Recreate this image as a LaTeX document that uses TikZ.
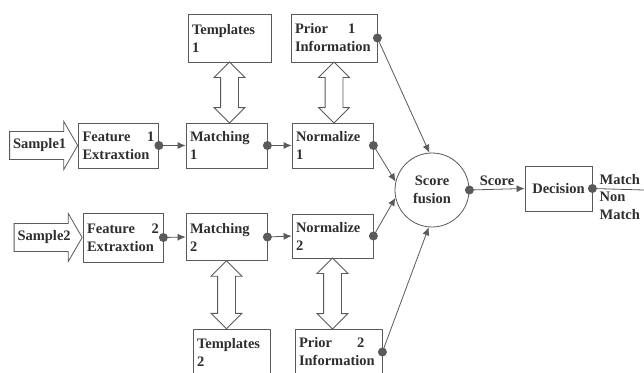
\documentclass[tikz,border=0pt]{standalone}
\usepackage{fontspec}
\setmainfont{Liberation Serif}
\usetikzlibrary{shapes.arrows,arrows.meta}

\definecolor{ink}{HTML}{2E2E2E}
\definecolor{edge}{HTML}{5A5A5A}

\tikzset{
  blk/.style={draw=edge, thick, align=left, text width=#1, minimum height=45pt,
    inner xsep=4pt, inner ysep=2pt, text=ink, font=\bfseries\fontsize{14.5}{18}\selectfont},
  blk/.default=72pt,
  smp/.style={draw=edge, thick, single arrow, single arrow head extend=10pt,
    single arrow tip angle=120, minimum height=68pt, inner xsep=1pt, inner ysep=7pt,
    text=ink, font=\bfseries\fontsize{14.5}{18}\selectfont},
  dbl/.style={draw=edge, thick, double arrow, rotate=90, double arrow head extend=6.5pt,
    double arrow tip angle=90, inner xsep=0pt, inner ysep=8.5pt},
  link/.style={draw=edge, thick, -{Latex[length=8pt,width=7pt]}},
  dot/.style={fill=edge, circle, inner sep=0pt, minimum size=9pt},
  lbl/.style={text=ink, font=\bfseries\fontsize{14.5}{18}\selectfont}
}

\begin{document}
\begin{tikzpicture}[x=1pt,y=-1pt]
  \useasboundingbox (0,0) rectangle (644,372);
  \clip (0,0) rectangle (644,372);
  \fill[white] (0,0) rectangle (644,372);

  % upper branch
  \node[blk] (feat1) at (118.5,145.5) {Feature\hfill 1\\Extraxtion};
  \node[blk=73pt] (match1) at (226.5,145.5) {Matching\\1};
  \node[blk=73pt] (norm1) at (332.5,145.5) {Normalize\\1};
  \node[blk=75pt, minimum height=48pt] (tpl1) at (229.5,38) {Templates\\1};
  \node[blk=78pt, minimum height=48pt] (pri1) at (334,38) {Prior\hspace{20pt}1\\Information};
  \node[smp, anchor=tip] (smp1) at (feat1.west) {Sample1};

  % lower branch
  \node[blk, minimum height=49pt] (feat2) at (123,237.5) {Feature\hfill 2\\Extraxtion};
  \node[blk=73pt, minimum height=47pt] (match2) at (226.5,237) {Matching\\2};
  \node[blk=73pt, minimum height=44pt] (norm2) at (332.5,236) {Normalize\\2};
  \node[blk=69pt, minimum height=46pt] (tpl2) at (231.5,352) {Templates\\2};
  \node[blk=79pt, minimum height=46pt] (pri2) at (338.5,352) {Prior\hspace{25pt}2\\Information};
  \node[smp, anchor=tip] (smp2) at (feat2.west) {Sample2};

  % fusion and decision
  \node[draw=edge, thick, circle, minimum size=74pt, align=center, lbl] (fusion) at (432,190) {Score\\fusion};
  \node[blk=59pt, align=center, minimum height=45pt] (dec) at (558.5,188.5) {Decision};
  \coordinate (out) at (644,190);

  % hollow double arrows
  \path (tpl1.south) -- node[dbl, minimum height=61pt] {} (tpl1.south |- match1.north);
  \path (pri1.south) -- node[dbl, minimum height=61pt] {} (pri1.south |- norm1.north);
  \path (match2.south) -- node[dbl, minimum height=68pt] {} (match2.south |- tpl2.north);
  \path (norm2.south) -- node[dbl, minimum height=71pt] {} (norm2.south |- pri2.north);

  % connectors
  \foreach \a/\b in {feat1/match1, match1/norm1, feat2/match2, match2/norm2}
    \draw[link] (\a.east) -- (\b.west);
  \draw[link] (norm1.east) -- (fusion.167);
  \draw[link] (norm2.east) -- (fusion.192);
  \draw[link] (pri1.east) -- (fusion.94);
  \draw[link] (pri2.east) -- (fusion.265);
  \draw[link] (fusion.east) -- node[lbl, above] {Score} (dec.west);
  \draw[draw=edge, thick] (dec.east) -- (out);

  % dots
  \foreach \n in {feat1, match1, norm1, pri1, feat2, match2, norm2, pri2, fusion, dec}
    \node[dot] at (\n.east) {};

  \node[lbl, anchor=south west, inner sep=1pt] at ([xshift=6pt,yshift=3pt]dec.east) {Match};
  \node[lbl, anchor=north west, align=left, inner sep=1pt] at ([xshift=6pt,yshift=-2pt]dec.east) {Non\\Match};
\end{tikzpicture}
\end{document}
